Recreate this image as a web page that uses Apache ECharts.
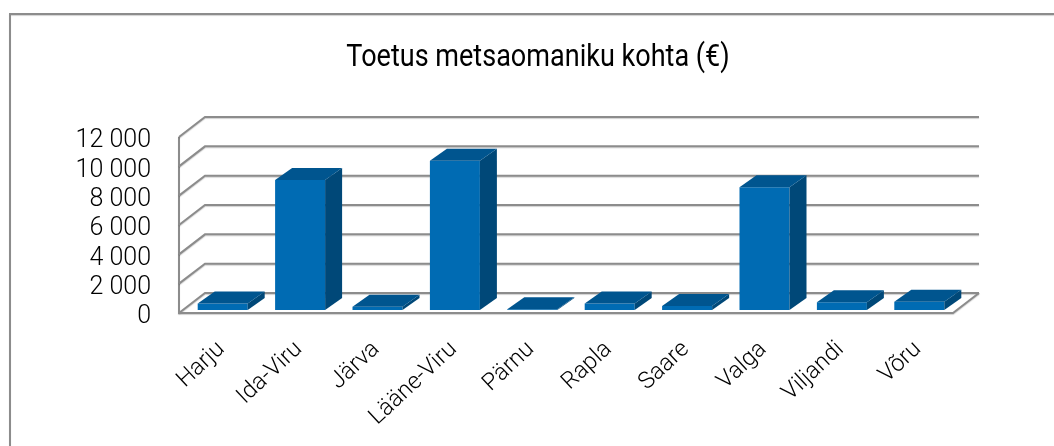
<!DOCTYPE html>
<html>
   <head>
      <meta charset="utf-8">
      <script type="text/javascript" src="https://cdn.jsdelivr.net/npm/echarts@6/dist/echarts.min.js"></script>
      <title>Toetus metsaomaniku kohta</title>
      <style>html,body{margin:0;padding:0;background:#fff}</style>
   </head>
   <body>
      <div id="chart" style="width:1054px;height:446px"></div>
      <script type="text/javascript">
         var title_text = "Toetus metsaomaniku kohta (€)";
         var counties = ["Harju", "Ida-Viru", "Järva", "Lääne-Viru", "Pärnu", "Rapla", "Saare", "Valga", "Viljandi", "Võru"];
         var support = [450, 8860, 220, 10180, 50, 450, 270, 8370, 520, 570];
         var y_ticks = [0, 2000, 4000, 6000, 8000, 10000, 12000];

         // depth of the fake 3d box, in pixels
         var wall_dx = 26, wall_dy = -20;
         var bar_dx = 17, bar_dy = -12;
         var bar_shift_x = 5, bar_shift_y = -3;
         var line_color = "#8c8c8c";
         var line_shadow = {shadowColor: "rgba(0,0,0,0.18)", shadowBlur: 1, shadowOffsetY: 1};

         function render_wall(params, api){
            var tick = api.value(0);
            var rect = params.coordSys;
            var p = api.coord([0, tick]);
            var x0 = rect.x, x1 = rect.x + rect.width, y = p[1];
            var children = [{
               type: "polyline",
               shape: {points: [[x0, y], [x0 + wall_dx, y + wall_dy], [x1 + wall_dx, y + wall_dy]]},
               style: Object.assign({fill: null, stroke: line_color, lineWidth: 2}, line_shadow)
            }];
            if (tick == 0){
               children.push({
                  type: "polyline",
                  shape: {points: [[x0, rect.y], [x0, y], [x1, y], [x1 + wall_dx, y + wall_dy]]},
                  style: Object.assign({fill: null, stroke: line_color, lineWidth: 2}, line_shadow)
               });
            }
            return {type: "group", children: children};
         }

         function render_bar(params, api){
            var i = api.value(0);
            var top = api.coord([i, api.value(1)]);
            var base = api.coord([i, 0]);
            var w = api.size([1, 0])[0] * 0.646;
            var l = top[0] + bar_shift_x - w / 2, r = l + w;
            var t = top[1] + bar_shift_y, b = base[1] + bar_shift_y;
            return {type: "group", children: [
               {type: "polygon", shape: {points: [[l, b], [r, b], [r, t], [l, t]]}, style: {fill: "#006bb3"}},
               {type: "polygon", shape: {points: [[r, b], [r + bar_dx, b + bar_dy], [r + bar_dx, t + bar_dy], [r, t]]}, style: {fill: "#004878"}},
               {type: "polygon", shape: {points: [[l, t], [r, t], [r + bar_dx, t + bar_dy], [l + bar_dx, t + bar_dy]]}, style: {fill: "#00558f"}}
            ]};
         }

         var option = {
            animation: false,
            backgroundColor: "#ffffff",
            grid: {left: 179, right: 101, top: 137, bottom: 133},
            xAxis: {
               type: "category",
               data: counties,
               axisLine: {show: false},
               axisTick: {show: false},
               axisLabel: {
                  rotate: 43, margin: 29, interval: 0,
                  verticalAlign: "top", lineHeight: 11,
                  fontFamily: "Roboto", fontWeight: 300, fontSize: 23.5, color: "#000000"
               }
            },
            yAxis: {
               type: "value",
               min: 0,
               max: 12000,
               interval: 2000,
               splitLine: {show: false},
               axisLine: {show: false},
               axisTick: {show: false},
               axisLabel: {
                  margin: 28,
                  verticalAlign: "top",
                  lineHeight: 8,
                  fontFamily: "Roboto", fontWeight: 300, fontSize: 25, color: "#000000",
                  formatter: function(v){ return String(v).replace(/\B(?=(\d{3})+$)/g, " "); }
               }
            },
            series: [
               {type: "custom", renderItem: render_wall, data: y_ticks.map(function(v){ return [v]; }), encode: {y: 0}, silent: true, z: 1},
               {type: "custom", renderItem: render_bar, data: support.map(function(v, i){ return [i, v]; }), encode: {x: 0, y: 1}, z: 2}
            ],
            graphic: [
               {type: "polyline", silent: true, z: 0, shape: {points: [[10, 446], [10, 14], [1054, 14]]},
                style: Object.assign({fill: null, stroke: line_color, lineWidth: 2}, line_shadow)},
               // condensed look of the original title font
               {type: "text", silent: true, z: 5, x: 538, y: 58, scaleX: 0.845,
                style: {text: title_text, textAlign: "center", textVerticalAlign: "middle", fontFamily: "Roboto", fontWeight: 400, fontSize: 32, fill: "#000000"}}
            ]
         };
         var myChart = echarts.init(document.getElementById("chart"));
         myChart.setOption(option);
      </script>
   </body>
</html>
